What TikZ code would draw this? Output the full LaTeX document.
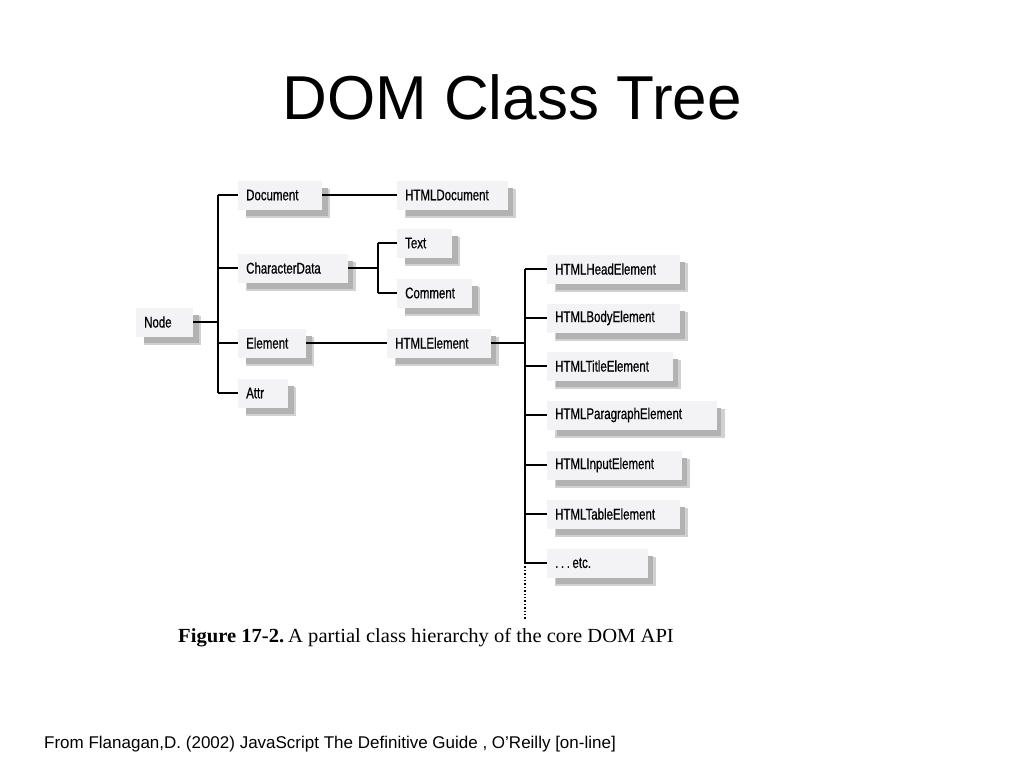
\documentclass[tikz,border=0pt]{standalone}
\usepackage{fontspec}
\setmainfont{Liberation Sans}
\newfontfamily\condfont[FakeStretch=0.74,FakeBold=0.6]{Liberation Sans}
\newfontfamily\capfont[FakeStretch=1.03]{Liberation Serif}
\usetikzlibrary{shadows}
\definecolor{boxfill}{HTML}{F3F2F5}
\tikzset{
  cls/.style={draw=none, fill=boxfill, anchor=west, minimum height=29pt,
    inner xsep=8pt, inner ysep=0pt, align=left, font=\condfont\fontsize{15.5}{15.5}\selectfont,
    text width=#1,
    general shadow={shadow xshift=8pt, shadow yshift=-8pt, fill=black!18},
    general shadow={shadow xshift=7pt, shadow yshift=-7pt, fill=black!30, shadow scale=0.97}},
  link/.style={line width=2pt, black},
}
\begin{document}
\begin{tikzpicture}[x=1pt,y=-1pt]
\useasboundingbox[fill=white] (0,0) rectangle (1024,768);
\node[font=\fontsize{62}{62}\selectfont, anchor=base] (title) at (512,119) {DOM Class Tree};

% left part
\node[cls=41pt] (node) at (136,322) {Node};
\node[cls=68pt] (doc) at (238,195) {Document};
\node[cls=95pt] (htmldoc) at (397,195) {HTMLDocument};
\node[cls=94pt] (chard) at (238,268) {CharacterData};
\node[cls=39pt] (text) at (397,243) {Text};
\node[cls=59pt] (comment) at (397,293) {Comment};
\node[cls=52pt] (elem) at (238,343) {Element};
\node[cls=88pt] (htmlel) at (387,343) {HTMLElement};
\node[cls=34pt] (attr) at (238,393) {Attr};

% right column
\node[cls=117pt] (head) at (547,269) {HTMLHeadElement};
\node[cls=117pt] (body) at (547,318) {HTMLBodyElement};
\node[cls=110pt] (titleel) at (547,366) {HTMLTitleElement};
\node[cls=154pt] (para) at (547,415) {HTMLParagraphElement};
\node[cls=119pt] (input) at (547,465) {HTMLInputElement};
\node[cls=117pt] (table) at (547,514) {HTMLTableElement};
\node[cls=85pt] (etc) at (547,563) {.\,.\,.\,etc.};

\coordinate (t1) at (218,0);
\coordinate (t2) at (378,0);
\coordinate (t3) at (525,0);

% Node trunk
\draw[link] (node.east) -- (node.east -| t1);
\draw[link] (doc.west -| t1) -- (attr.west -| t1);
\foreach \n in {doc,chard,elem,attr} \draw[link] (\n.west -| t1) -- (\n.west);

% Document
\draw[link] (doc.east) -- (htmldoc.west);
% CharacterData
\draw[link] (chard.east) -- (chard.east -| t2);
\draw[link] (text.west -| t2) -- (comment.west -| t2);
\draw[link] (text.west -| t2) -- (text.west);
\draw[link] (comment.west -| t2) -- (comment.west);
% Element
\draw[link] (elem.east) -- (htmlel.west);
\draw[link] (htmlel.east) -- (htmlel.east -| t3);
\draw[link] (head.west -| t3) -- (etc.west -| t3);
\foreach \n in {head,body,titleel,para,input,table,etc} \draw[link] (\n.west -| t3) -- (\n.west);
\coordinate (dotend) at (525,620);
\draw[line width=1.4pt, dotted] (etc.west -| t3) -- (dotend);

\node[anchor=base west, inner sep=0pt, font=\capfont\fontsize{20}{20}\selectfont] (cap) at (178,642)
  {\textbf{Figure 17-2.}\hspace{0.2em}A partial class hierarchy of the core DOM API};

\node[anchor=base west, inner sep=0pt, font=\fontsize{17}{17}\selectfont] (src) at (44,748)
  {From Flanagan,D. (2002) JavaScript The Definitive Guide , O’Reilly [on-line]};
\end{tikzpicture}
\end{document}
